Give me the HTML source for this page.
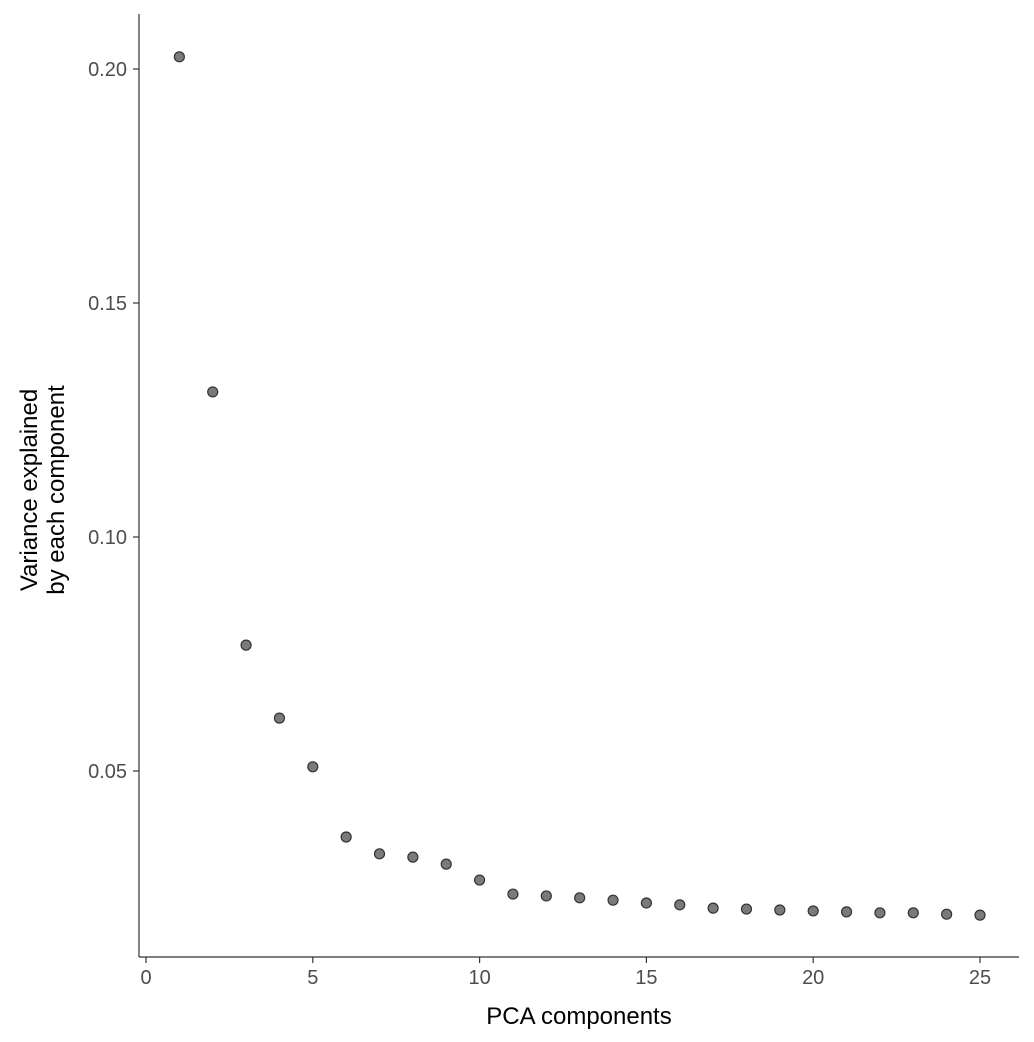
<!DOCTYPE html>
<html><head><meta charset="utf-8"><style>
body{margin:0;background:#fff}
svg{display:block;font-family:"Liberation Sans",Arial,sans-serif}
</style></head><body>
<svg id="chart" width="1034" height="1042">
<rect width="1034" height="1042" fill="#fff"/>
<g id="axes"></g>
<g id="points"></g>
<text x="579" y="1024" font-size="24" text-anchor="middle" fill="#000">PCA components</text>
<text transform="translate(37,490) rotate(-90)" font-size="24" text-anchor="middle" fill="#000"><tspan x="0" dy="0">Variance explained</tspan><tspan x="0" dy="27">by each component</tspan></text>
</svg>
<script>
const components=[1,2,3,4,5,6,7,8,9,10,11,12,13,14,15,16,17,18,19,20,21,22,23,24,25];
const variance=[0.2026,0.1310,0.0769,0.0613,0.0509,0.0359,0.0323,0.0316,0.0301,0.0267,0.0237,0.0233,0.0229,0.0224,0.0218,0.0214,0.0207,0.0205,0.0203,0.0201,0.0199,0.0197,0.0197,0.0194,0.0192];
const xTicks=[0,5,10,15,20,25];
const yTicks=[0.05,0.10,0.15,0.20];
const yTickLabels=["0.05","0.10","0.15","0.20"];
const NS="http://www.w3.org/2000/svg";
const xs=v=>146+v*(980-146)/25;
const ys=v=>1005-v*4680;
const axes=document.getElementById('axes'),pts=document.getElementById('points');
function mk(tag,attrs,parent){const e=document.createElementNS(NS,tag);for(const k in attrs)e.setAttribute(k,attrs[k]);parent.appendChild(e);return e;}
let l=mk('line',{x1:139,y1:14,x2:139,y2:957,stroke:'#333','stroke-width':1.2},axes);


l=mk('line',{x1:139,y1:957,x2:1019,y2:957,stroke:'#333','stroke-width':1.2},axes);


xTicks.forEach(t=>{
 const tk=mk('line',{x1:xs(t),y1:957,x2:xs(t),y2:963,stroke:'#333','stroke-width':1.2},axes);
 
 
 const tx=mk('text',{x:xs(t),y:984,'font-size':20,'text-anchor':'middle',fill:'#4d4d4d'},axes);
 tx.textContent=t;
 
 
});
yTicks.forEach((t,i)=>{
 const tk=mk('line',{x1:133,y1:ys(t),x2:139,y2:ys(t),stroke:'#333','stroke-width':1.2},axes);
 
 
 const tx=mk('text',{x:127,y:ys(t)+7,'font-size':20,'text-anchor':'end',fill:'#4d4d4d'},axes);
 tx.textContent=yTickLabels[i];
 
 
});
components.forEach((c,i)=>{
 const p=mk('circle',{cx:xs(c),cy:ys(variance[i]),r:5,fill:'#7a7a7a',stroke:'#333','stroke-width':1.2},pts);
 
 
});
</script>
</body></html>
